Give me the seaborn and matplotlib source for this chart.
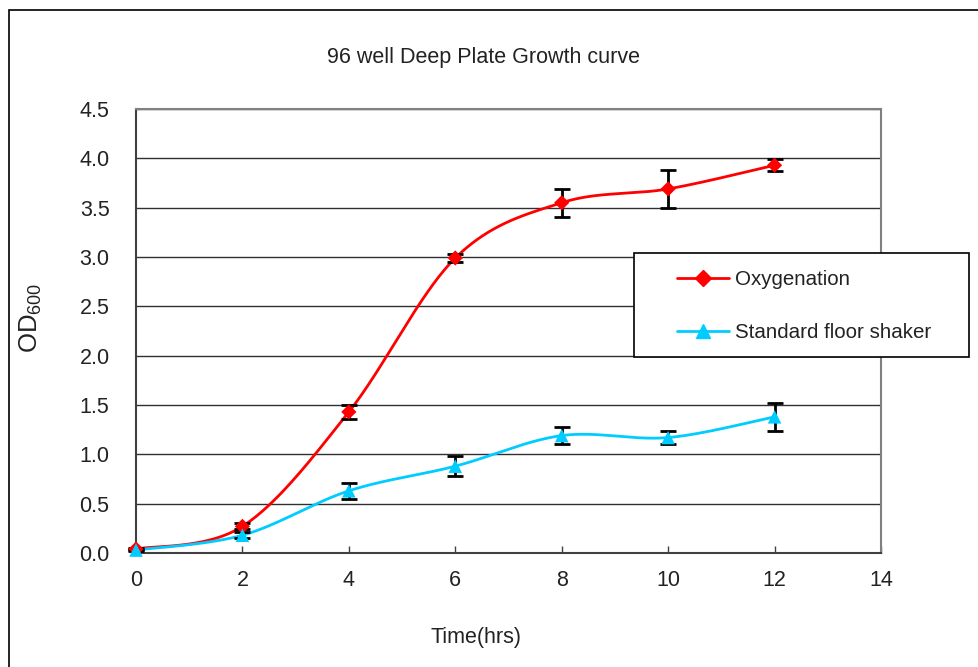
import numpy as np
import pandas as pd
import matplotlib
matplotlib.use("Agg")
import matplotlib.pyplot as plt
import seaborn as sns
from matplotlib.lines import Line2D
from matplotlib.patches import Rectangle

# ---- data ----
time_hrs = [0, 2, 4, 6, 8, 10, 12]
oxygenation = [0.04, 0.27, 1.43, 2.99, 3.55, 3.69, 3.93]
oxygenation_err = [0.01, 0.03, 0.07, 0.04, 0.14, 0.19, 0.06]
standard = [0.03, 0.18, 0.63, 0.88, 1.19, 1.17, 1.38]
standard_err = [0.01, 0.03, 0.08, 0.10, 0.09, 0.07, 0.14]
series_names = ["Oxygenation", "Standard floor shaker"]
x_ticks = list(range(0, 15, 2))
y_ticks = [0.0, 0.5, 1.0, 1.5, 2.0, 2.5, 3.0, 3.5, 4.0, 4.5]

df = pd.DataFrame({
    "time": time_hrs * 2,
    "od": oxygenation + standard,
    "err": oxygenation_err + standard_err,
    "series": [series_names[0]] * 7 + [series_names[1]] * 7,
})

sns.set_style("white")
plt.rcParams["font.family"] = ["Liberation Sans", "DejaVu Sans"]
plt.rcParams["mathtext.fontset"] = "custom"
plt.rcParams["mathtext.rm"] = "Liberation Sans"
plt.rcParams["mathtext.default"] = "regular"
TXT = "#222222"

fig = plt.figure(figsize=(9.79, 6.67), dpi=100)
ax = fig.add_axes([136 / 979, 1 - 553 / 667, (881 - 136) / 979, (553 - 109) / 667])

colors = {series_names[0]: "#ff0000", series_names[1]: "#00ccff"}
markers = {series_names[0]: "D", series_names[1]: "^"}
msizes = {series_names[0]: 60, series_names[1]: 95}

SX, SY = 53.2, 98.67  # px per unit, for smoothing in display-like space


def smooth(xs, ys, n=40):
    P = np.column_stack([np.asarray(xs, float) * SX, np.asarray(ys, float) * SY])
    out = []
    m = len(P)
    for i in range(m - 1):
        p0 = P[max(i - 1, 0)]
        p1 = P[i]
        p2 = P[i + 1]
        p3 = P[min(i + 2, m - 1)]
        c1 = p1 + (p2 - p0) / 6.0
        c2 = p2 - (p3 - p1) / 6.0
        t = np.linspace(0, 1, n)[:, None]
        seg = ((1 - t) ** 3) * p1 + 3 * ((1 - t) ** 2) * t * c1 + 3 * (1 - t) * t ** 2 * c2 + t ** 3 * p2
        out.append(seg if i == 0 else seg[1:])
    out = np.vstack(out)
    return out[:, 0] / SX, out[:, 1] / SY


for name in series_names:
    d = df[df["series"] == name]
    sx, sy = smooth(d["time"], d["od"])
    ax.plot(sx, sy, color=colors[name], lw=2, zorder=3, clip_on=False)
    ax.errorbar(d["time"], d["od"], yerr=d["err"], fmt="none", ecolor="black",
                elinewidth=2, capsize=6, capthick=2, zorder=4, clip_on=False)

sns.scatterplot(data=df, x="time", y="od", hue="series", style="series",
                palette=colors, markers=markers, size="series", sizes=msizes,
                edgecolor="none", legend=False, ax=ax, zorder=5, clip_on=False)

ax.set_xlim(0, 14)
ax.set_ylim(0, 4.5)
ax.set_xticks(x_ticks)
ax.set_yticks(y_ticks)
ax.set_xticklabels([str(v) for v in x_ticks], fontsize=15.5, color=TXT)
ax.set_yticklabels([f"{v:.1f}" for v in y_ticks], fontsize=15.5, color=TXT)
ax.tick_params(axis="x", direction="in", length=5, width=1, color="#404040",
               bottom=True, pad=12)
ax.tick_params(axis="y", left=True, length=0, pad=19)
ax.yaxis.grid(True, color="#303030", lw=1)
ax.set_axisbelow(True)
for s in ["top", "right"]:
    ax.spines[s].set_color("#808080")
    ax.spines[s].set_linewidth(1.5)
for s in ["left", "bottom"]:
    ax.spines[s].set_color("#404040")
    ax.spines[s].set_linewidth(1.5)

ax.set_xlabel("")
ax.set_ylabel("")
fig.text(476 / 979, 1 - 637 / 667, "Time(hrs)", ha="center", va="center", fontsize=15.5, color=TXT)
fig.text(484 / 979, 1 - 58 / 667, "96 well Deep Plate Growth curve", ha="center", va="center",
         fontsize=15.5, color=TXT)
fig.text(31 / 979, 1 - 318 / 667, "OD$_{600}$", ha="center", va="center", fontsize=18.5,
         rotation=90, color=TXT)

# outer chart border
fig.patches.append(Rectangle((9 / 979, -0.01), 1.0, 1 - 10 / 667 + 0.01, transform=fig.transFigure,
                             fill=False, edgecolor="black", lw=1.2))

# legend box
fig.patches.append(Rectangle((634 / 979, 1 - 357 / 667), (969 - 634) / 979, (357 - 253) / 667,
                             transform=fig.transFigure, facecolor="white", edgecolor="black",
                             lw=1.2, zorder=10))

handles = [Line2D([0], [0], color=colors[n], lw=2, marker=markers[n],
                  markersize=8 if n == series_names[0] else 10)
           for n in series_names]
leg = fig.legend(handles, series_names, loc="upper left",
                 bbox_to_anchor=(677 / 979, 1 - 270 / 667),
                 fontsize=14.8, frameon=False, borderpad=0, labelspacing=1.65,
                 handlelength=2.55, handletextpad=0.25, borderaxespad=0)
for t in leg.get_texts():
    t.set_color(TXT)
leg.set_zorder(11)

fig.savefig("out.png", dpi=100)
